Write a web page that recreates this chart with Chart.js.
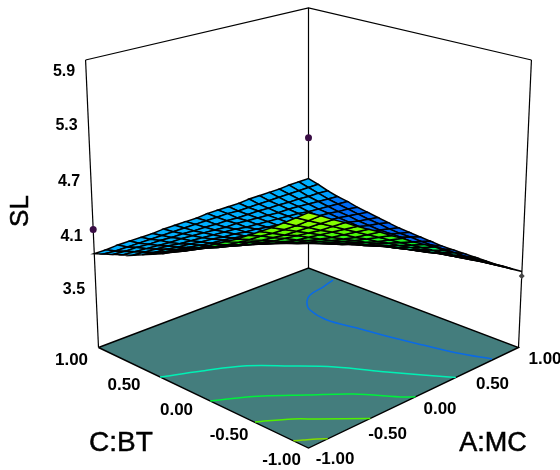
<!DOCTYPE html>
<html>
<head>
<meta charset="utf-8">
<style>
  html, body { margin: 0; padding: 0; background: #fff; }
  canvas { display: block; }
</style>
<script src="https://cdn.jsdelivr.net/npm/chart.js@4/dist/chart.umd.min.js"></script>
</head>
<body>
<canvas id="chart" width="560" height="470"></canvas>
<script>
// factor levels along both floor axes
const amcLevels = [-1, -0.9, -0.8, -0.7, -0.6, -0.5, -0.4, -0.3, -0.2, -0.1, 0, 0.1, 0.2, 0.3, 0.4, 0.5, 0.6, 0.7, 0.8, 0.9, 1];
const btLevels = [-1, -0.9, -0.8, -0.7, -0.6, -0.5, -0.4, -0.3, -0.2, -0.1, 0, 0.1, 0.2, 0.3, 0.4, 0.5, 0.6, 0.7, 0.8, 0.9, 1];

// SL response, one row per BT level, one column per AMC level
const slGrid = [
  [5.20, 5.13, 5.05, 4.98, 4.90, 4.83, 4.76, 4.68, 4.61, 4.53, 4.46, 4.39, 4.31, 4.24, 4.16, 4.09, 4.02, 3.94, 3.87, 3.79, 3.72],
  [5.11, 5.04, 4.97, 4.90, 4.83, 4.76, 4.69, 4.62, 4.55, 4.48, 4.41, 4.34, 4.27, 4.20, 4.13, 4.06, 3.99, 3.92, 3.85, 3.78, 3.71],
  [5.02, 4.95, 4.89, 4.82, 4.76, 4.69, 4.62, 4.56, 4.49, 4.43, 4.36, 4.30, 4.23, 4.16, 4.10, 4.03, 3.97, 3.90, 3.84, 3.77, 3.70],
  [4.93, 4.87, 4.81, 4.75, 4.69, 4.62, 4.56, 4.50, 4.44, 4.38, 4.32, 4.25, 4.19, 4.13, 4.07, 4.01, 3.95, 3.88, 3.82, 3.76, 3.70],
  [4.85, 4.79, 4.73, 4.68, 4.62, 4.56, 4.50, 4.45, 4.39, 4.33, 4.27, 4.22, 4.16, 4.10, 4.04, 3.98, 3.93, 3.87, 3.81, 3.75, 3.70],
  [4.77, 4.72, 4.66, 4.61, 4.55, 4.50, 4.45, 4.39, 4.34, 4.29, 4.23, 4.18, 4.13, 4.07, 4.02, 3.96, 3.91, 3.86, 3.80, 3.75, 3.70],
  [4.69, 4.64, 4.59, 4.54, 4.49, 4.44, 4.39, 4.34, 4.29, 4.24, 4.20, 4.15, 4.10, 4.05, 4.00, 3.95, 3.90, 3.85, 3.80, 3.75, 3.70],
  [4.62, 4.57, 4.53, 4.48, 4.43, 4.39, 4.34, 4.30, 4.25, 4.21, 4.16, 4.11, 4.07, 4.02, 3.98, 3.93, 3.89, 3.84, 3.79, 3.75, 3.70],
  [4.55, 4.50, 4.46, 4.42, 4.38, 4.34, 4.30, 4.25, 4.21, 4.17, 4.13, 4.09, 4.04, 4.00, 3.96, 3.92, 3.88, 3.84, 3.79, 3.75, 3.71],
  [4.48, 4.44, 4.40, 4.36, 4.33, 4.29, 4.25, 4.21, 4.17, 4.14, 4.10, 4.06, 4.02, 3.98, 3.95, 3.91, 3.87, 3.83, 3.80, 3.76, 3.72],
  [4.41, 4.38, 4.34, 4.31, 4.28, 4.24, 4.21, 4.17, 4.14, 4.10, 4.07, 4.04, 4.00, 3.97, 3.93, 3.90, 3.87, 3.83, 3.80, 3.76, 3.73],
  [4.35, 4.32, 4.29, 4.26, 4.23, 4.20, 4.17, 4.14, 4.11, 4.08, 4.05, 4.02, 3.99, 3.96, 3.93, 3.90, 3.86, 3.83, 3.80, 3.77, 3.74],
  [4.29, 4.26, 4.24, 4.21, 4.18, 4.16, 4.13, 4.10, 4.08, 4.05, 4.03, 4.00, 3.97, 3.95, 3.92, 3.89, 3.87, 3.84, 3.81, 3.79, 3.76],
  [4.23, 4.21, 4.19, 4.16, 4.14, 4.12, 4.10, 4.07, 4.05, 4.03, 4.01, 3.98, 3.96, 3.94, 3.91, 3.89, 3.87, 3.85, 3.82, 3.80, 3.78],
  [4.18, 4.16, 4.14, 4.12, 4.10, 4.08, 4.07, 4.05, 4.03, 4.01, 3.99, 3.97, 3.95, 3.93, 3.91, 3.89, 3.87, 3.86, 3.84, 3.82, 3.80],
  [4.13, 4.11, 4.10, 4.08, 4.07, 4.05, 4.04, 4.02, 4.01, 3.99, 3.98, 3.96, 3.94, 3.93, 3.91, 3.90, 3.88, 3.87, 3.85, 3.84, 3.82],
  [4.08, 4.07, 4.06, 4.05, 4.03, 4.02, 4.01, 4.00, 3.99, 3.98, 3.96, 3.95, 3.94, 3.93, 3.92, 3.91, 3.89, 3.88, 3.87, 3.86, 3.85],
  [4.04, 4.03, 4.02, 4.01, 4.00, 4.00, 3.99, 3.98, 3.97, 3.96, 3.96, 3.95, 3.94, 3.93, 3.92, 3.92, 3.91, 3.90, 3.89, 3.88, 3.87],
  [4.00, 3.99, 3.99, 3.98, 3.98, 3.97, 3.97, 3.96, 3.96, 3.95, 3.95, 3.94, 3.94, 3.94, 3.93, 3.93, 3.92, 3.92, 3.91, 3.91, 3.90],
  [3.96, 3.95, 3.95, 3.95, 3.95, 3.95, 3.95, 3.95, 3.95, 3.95, 3.95, 3.95, 3.94, 3.94, 3.94, 3.94, 3.94, 3.94, 3.94, 3.94, 3.94],
  [3.92, 3.92, 3.93, 3.93, 3.93, 3.93, 3.94, 3.94, 3.94, 3.94, 3.95, 3.95, 3.95, 3.95, 3.96, 3.96, 3.96, 3.96, 3.97, 3.97, 3.97]
];

// floor contours as [AMC, BT] pairs
const contour389 = [[0.962, 0.706], [0.815, 0.665], [0.643, 0.627], [0.524, 0.54], [0.452, 0.437], [0.412, 0.23], [0.462, -0.012], [0.514, -0.274], [0.575, -0.519], [0.64, -0.764], [0.733, -0.989]];
const contour417 = [[-1, 0.361], [-0.749, 0.235], [-0.507, 0.101], [-0.289, -0.117], [-0.091, -0.337], [0.095, -0.629], [0.227, -0.825], [0.35, -1]];
const contour445 = [[-1, -0.125], [-0.848, -0.218], [-0.718, -0.31], [-0.511, -0.497], [-0.294, -0.694], [-0.093, -0.955], [-0.043, -1]];
const contour474 = [[-0.996, -0.532], [-0.803, -0.669], [-0.699, -0.773], [-0.461, -1]];
const contour503 = [[-1, -0.872], [-0.952, -0.906], [-0.884, -0.956], [-0.837, -1]];

// design points as [AMC, BT, SL]
const designPoints = [[-1, 1, 4.19], [1, 1, 4.47]];
const lowDesignPoint = [[1, -1, 3.67]];

const slTicks = [5.9, 5.3, 4.7, 4.1, 3.5];
const factorTicks = [1, 0.5, 0, -0.5, -1];
const factorTickLabels = ['1.00', '0.50', '0.00', '-0.50', '-1.00'];

// camera fitted to the box in the picture
const slFloor = 2.85, slTop = 6.0;
const view = { cx: 308.5, cy: 235, spread: 210, floorY: 112.5, depthY: 75.65, riseY: 277.35, depthK: 0.1167, riseK: 0.058 };

function project(amc, bt, sl) {
  const u = (amc - bt) / 2;
  const v = (amc + bt) / 2;
  const h = (sl - slFloor) / (slTop - slFloor);
  const w = 1 + view.depthK * v - view.riseK * h;
  return {
    x: view.cx + view.spread * u / w,
    y: view.cy + (view.floorY - view.depthY * v - view.riseY * h) / w
  };
}

const colorStops = [
  [3.70, [0, 85, 235]],
  [3.86, [0, 110, 245]],
  [3.90, [0, 172, 255]],
  [4.10, [0, 185, 250]],
  [4.17, [0, 235, 170]],
  [4.45, [0, 245, 50]],
  [4.74, [90, 250, 0]],
  [5.20, [170, 255, 0]]
];

function slColor(sl) {
  for (let i = 1; i < colorStops.length; i++) {
    if (sl <= colorStops[i][0]) {
      const [a, ca] = colorStops[i - 1];
      const [b, cb] = colorStops[i];
      const t = Math.max(0, (sl - a) / (b - a));
      return 'rgb(' + ca.map((c, k) => Math.round(c + (cb[k] - c) * t)).join(',') + ')';
    }
  }
  return 'rgb(170,255,0)';
}

const datasets = [];
// later entries get a lower order so they paint on top
function addLine(points, color, width, fillColor, tension) {
  datasets.push({
    data: points,
    showLine: true,
    borderColor: color,
    borderWidth: width,
    backgroundColor: fillColor || 'transparent',
    fill: fillColor ? 'shape' : false,
    pointRadius: 0,
    tension: tension || 0,
    order: -datasets.length
  });
}

function floorPoint(amc, bt) {
  return project(amc, bt, slFloor);
}

// floor
const floorCorners = [floorPoint(-1, 1), floorPoint(1, 1), floorPoint(1, -1), floorPoint(-1, -1), floorPoint(-1, 1)];
addLine(floorCorners, '#000', 1.4, '#447d7d');

// walls of the box
addLine([project(-1, 1, slTop), project(1, 1, slTop), project(1, -1, slTop)], '#000', 1.2);
addLine([floorPoint(-1, 1), project(-1, 1, slTop)], '#000', 1.2);
addLine([floorPoint(1, 1), project(1, 1, slTop)], '#000', 1.2);
addLine([floorPoint(1, -1), project(1, -1, slTop)], '#000', 1.2);

// contours on the floor
[[contour389, '#0a6ae6'], [contour417, '#00f0b4'], [contour445, '#00f03c'], [contour474, '#50f000'], [contour503, '#82dc00']].forEach(([line, color]) => {
  addLine(line.map(p => floorPoint(p[0], p[1])), color, 1.5, null, 0.35);
});

// mesh cells, far ones first
const cells = [];
for (let j = 0; j < btLevels.length - 1; j++) {
  for (let i = 0; i < amcLevels.length - 1; i++) {
    cells.push({
      depth: amcLevels[i] + amcLevels[i + 1] + btLevels[j] + btLevels[j + 1],
      mean: (slGrid[j][i] + slGrid[j][i + 1] + slGrid[j + 1][i] + slGrid[j + 1][i + 1]) / 4,
      corners: [
        project(amcLevels[i], btLevels[j], slGrid[j][i]),
        project(amcLevels[i + 1], btLevels[j], slGrid[j][i + 1]),
        project(amcLevels[i + 1], btLevels[j + 1], slGrid[j + 1][i + 1]),
        project(amcLevels[i], btLevels[j + 1], slGrid[j + 1][i]),
        project(amcLevels[i], btLevels[j], slGrid[j][i])
      ]
    });
  }
}
cells.sort((a, b) => b.depth - a.depth);
cells.forEach(c => addLine(c.corners, '#000', 1.5, slColor(c.mean)));

// design points
datasets.push({
  data: designPoints.map(p => project(p[0], p[1], p[2])),
  pointRadius: 3.5,
  pointBackgroundColor: '#3a0d45',
  pointBorderWidth: 0,
  order: -datasets.length
});
datasets.push({
  data: lowDesignPoint.map(p => project(p[0], p[1], p[2])),
  pointRadius: 3,
  pointStyle: 'rectRot',
  pointBackgroundColor: '#444',
  pointBorderWidth: 0,
  order: -datasets.length
});

const boxLabels = {
  id: 'boxLabels',
  afterDraw(chart) {
    const { ctx, scales } = chart;
    const at = p => ({ x: scales.x.getPixelForValue(p.x), y: scales.y.getPixelForValue(p.y) });
    const leftCorner = at(floorPoint(-1, 1));
    const frontCorner = at(floorPoint(-1, -1));
    const rightCorner = at(floorPoint(1, -1));
    const lerp = (a, b, s) => ({ x: a.x + (b.x - a.x) * s, y: a.y + (b.y - a.y) * s });

    ctx.save();
    ctx.fillStyle = '#000';
    ctx.strokeStyle = '#000';
    ctx.textAlign = 'center';
    ctx.textBaseline = 'middle';

    ctx.font = 'bold 16px "Liberation Sans"';
    slTicks.forEach(t => {
      const p = at(project(-1, 1, t));
      ctx.fillText(t.toFixed(1), p.x - 22, p.y + (t > 5.5 ? 2 : -1));
    });

    // the factor labels are evenly spaced along the floor edges
    ctx.font = 'bold 17px "Liberation Sans"';
    factorTicks.forEach((t, i) => {
      const s = (t + 1) / 2;
      const left = lerp(frontCorner, leftCorner, s);
      ctx.fillText(factorTickLabels[i], left.x - 27, left.y + 12.5);
      const right = lerp(frontCorner, rightCorner, s);
      ctx.fillText(factorTickLabels[i], right.x + 26.5, right.y + 11.5);
    });

    ctx.lineWidth = 0.5;
    ctx.font = '28px "Liberation Sans"';
    ctx.fillText('C:BT', 121, 443);
    ctx.strokeText('C:BT', 121, 443);
    ctx.font = '27px "Liberation Sans"';
    ctx.fillText('A:MC', 493, 444);
    ctx.strokeText('A:MC', 493, 444);

    ctx.translate(21, 211);
    ctx.rotate(-Math.PI / 2);
    ctx.font = '26px "Liberation Sans"';
    ctx.fillText('SL', 0, 0);
    ctx.strokeText('SL', 0, 0);
    ctx.restore();
  }
};

new Chart(document.getElementById('chart').getContext('2d'), {
  type: 'scatter',
  data: { datasets },
  options: {
    responsive: false,
    animation: false,
    events: [],
    layout: { padding: 0, autoPadding: false },
    plugins: { legend: { display: false }, tooltip: { enabled: false }, title: { display: false } },
    scales: {
      x: { type: 'linear', min: 0, max: 560, display: false },
      y: { type: 'linear', min: 0, max: 470, reverse: true, display: false }
    }
  },
  plugins: [boxLabels]
});
</script>
</body>
</html>
